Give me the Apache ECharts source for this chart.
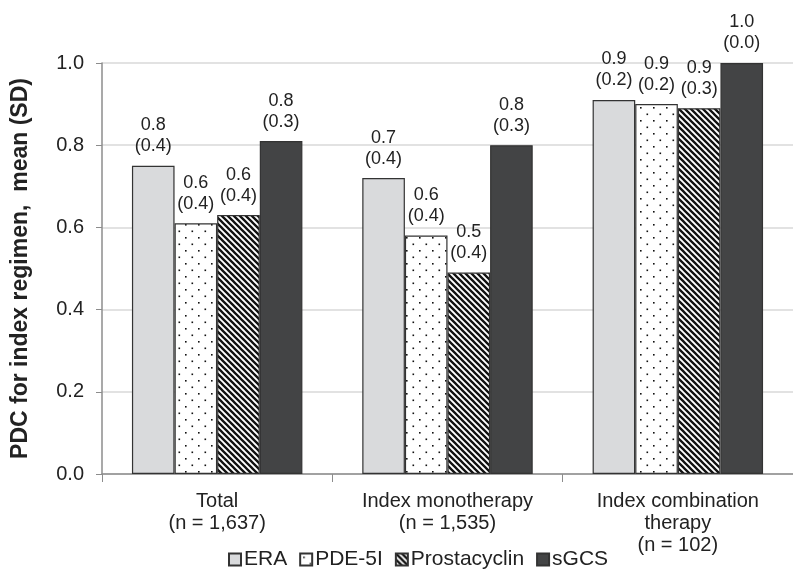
<!DOCTYPE html>
<html><head><meta charset="utf-8">
<script src="https://cdn.jsdelivr.net/npm/echarts@6/dist/echarts.min.js"></script>
<style>html,body{margin:0;padding:0;background:#fff}#c{width:793px;height:570px}</style>
</head><body><div id="c"></div>
<script>
const categories = ['Total\n(n = 1,637)', 'Index monotherapy\n(n = 1,535)', 'Index combination\ntherapy\n(n = 102)'];
const seriesNames = ['ERA', 'PDE-5I', 'Prostacyclin', 'sGCS'];
const eraValues = [0.75, 0.72, 0.91];
const pdeValues = [0.61, 0.58, 0.90];
const prostaValues = [0.63, 0.49, 0.89];
const sgcsValues = [0.81, 0.80, 1.00];
const eraLabels = ['0.8\n(0.4)', '0.7\n(0.4)', '0.9\n(0.2)'];
const pdeLabels = ['0.6\n(0.4)', '0.6\n(0.4)', '0.9\n(0.2)'];
const prostaLabels = ['0.6\n(0.4)', '0.5\n(0.4)', '0.9\n(0.3)'];
const sgcsLabels = ['0.8\n(0.3)', '0.8\n(0.3)', '1.0\n(0.0)'];
const yTicks = [0, 0.2, 0.4, 0.6, 0.8, 1.0];

function dotPattern() {
  const c = document.createElement('canvas'); c.width = 13; c.height = 13;
  const g = c.getContext('2d');
  g.fillStyle = '#fff'; g.fillRect(0, 0, 13, 13);
  g.fillStyle = '#111';
  g.fillRect(3, 3, 1.6, 1.6);
  g.fillRect(9.5, 9.5, 1.6, 1.6);
  return c;
}
function stripePattern() {
  const n = 6;
  const c = document.createElement('canvas'); c.width = n; c.height = n;
  const g = c.getContext('2d');
  g.fillStyle = '#fff'; g.fillRect(0, 0, n, n);
  g.strokeStyle = '#111'; g.lineWidth = 2.3;
  g.beginPath();
  g.moveTo(-n, 0); g.lineTo(n, 2 * n);
  g.moveTo(0, 0); g.lineTo(n, n);
  g.moveTo(0, -n); g.lineTo(2 * n, n);
  g.stroke();
  return c;
}

const fills = ['#d9dadc', {image: dotPattern(), repeat: 'repeat'}, {image: stripePattern(), repeat: 'repeat'}, '#434445'];
const valueSets = [eraValues, pdeValues, prostaValues, sgcsValues];
const labelSets = [eraLabels, pdeLabels, prostaLabels, sgcsLabels];
const font = 'Liberation Sans, Arial, sans-serif';

const chart = echarts.init(document.getElementById('c'), null, {renderer: 'canvas'});
chart.setOption({
  animation: false,
  textStyle: {fontFamily: font},
  grid: {left: 102, top: 63, width: 699, height: 411, containLabel: false},
  legend: {
    top: 549, left: 228, padding: 0,
    itemWidth: 12, itemHeight: 12, itemGap: 12,
    icon: 'rect',
    textStyle: {fontSize: 21, color: '#222', fontFamily: font, padding: [0, 0, 0, -2]},
    data: seriesNames
  },
  xAxis: {
    type: 'category', data: categories,
    axisLine: {lineStyle: {color: '#8c8c8c', width: 1.5}},
    axisTick: {show: true, length: 8, lineStyle: {color: '#8c8c8c'}},
    axisLabel: {fontSize: 20, color: '#222', lineHeight: 22, margin: 16, interval: 0}
  },
  yAxis: {
    type: 'value', min: 0, max: 1, interval: 0.2,
    name: 'PDC for index regimen,  mean (SD)', nameLocation: 'middle', nameGap: 70,
    nameTextStyle: {fontSize: 23, fontWeight: 'bold', color: '#222', fontFamily: font},
    axisLine: {show: true, lineStyle: {color: '#8c8c8c', width: 1.5}},
    axisTick: {show: true, length: 6, lineStyle: {color: '#8c8c8c'}},
    splitLine: {lineStyle: {color: '#d9d9d9', width: 1.5}},
    axisLabel: {fontSize: 20, color: '#222', margin: 18, formatter: v => yTicks.includes(+v.toFixed(1)) ? v.toFixed(1) : ''}
  },
  series: seriesNames.map((name, i) => ({
    name, type: 'bar', data: valueSets[i],
    barGap: '0%', barCategoryGap: '26%',
    itemStyle: {color: fills[i], borderColor: '#333', borderWidth: 1.2},
    label: {
      show: true, position: 'top', distance: 9,
      fontSize: 18, color: '#222', lineHeight: 21, fontFamily: font,
      formatter: p => labelSets[i][p.dataIndex]
    }
  }))
});
</script></body></html>
